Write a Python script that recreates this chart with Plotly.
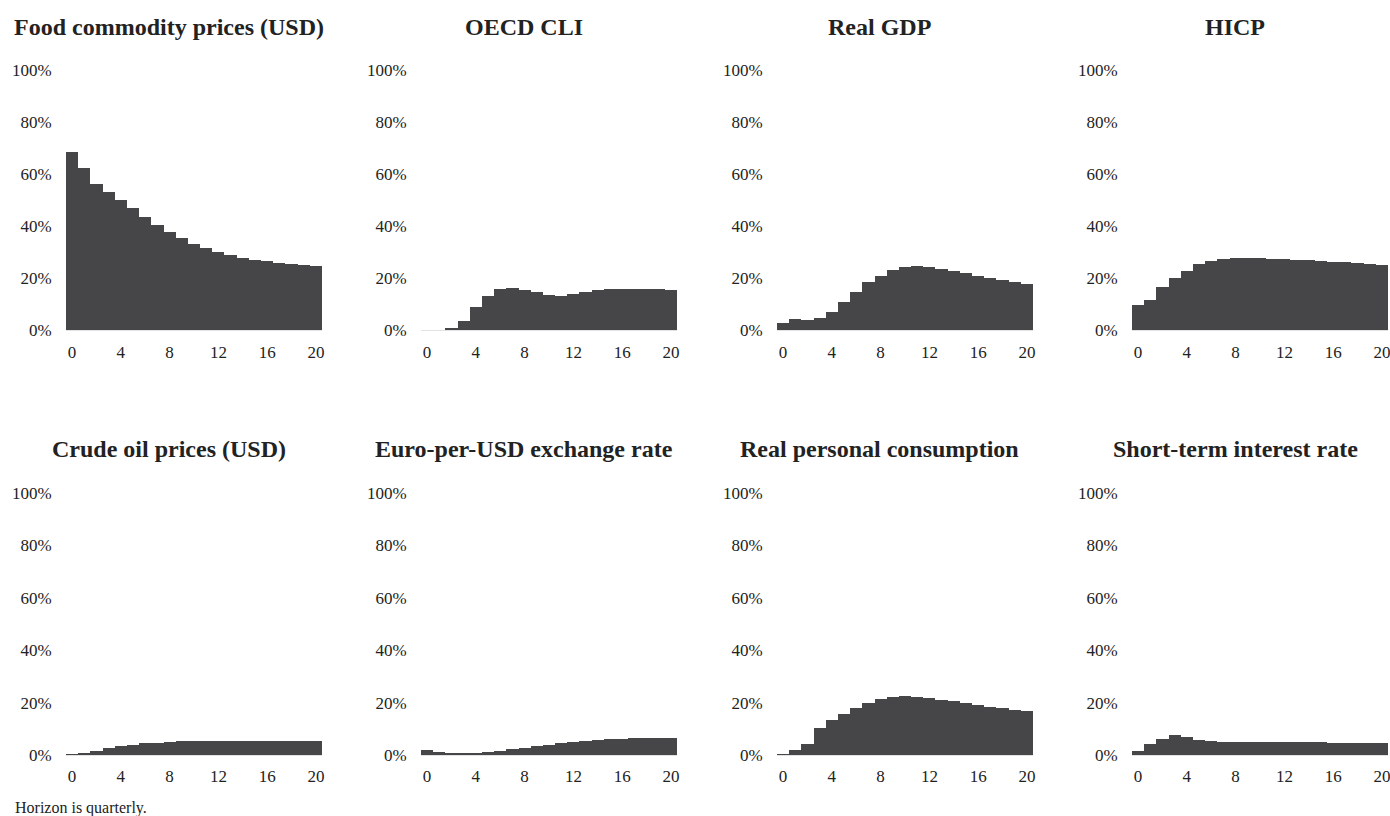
import plotly.graph_objects as go

# Share of forecast error variance explained, by horizon (quarters 0-20)
horizon = list(range(21))

titles = [
    "Food commodity prices (USD)", "OECD CLI", "Real GDP", "HICP",
    "Crude oil prices (USD)", "Euro-per-USD exchange rate",
    "Real personal consumption", "Short-term interest rate",
]

food_prices = [68.5, 62.4, 56.0, 53.1, 50.1, 47.1, 43.6, 40.5, 37.6, 35.3, 33.2,
               31.7, 30.0, 28.7, 27.8, 26.9, 26.4, 25.9, 25.5, 25.1, 24.7]
oecd_cli = [0.0, 0.0, 0.5, 3.6, 8.7, 13.2, 15.6, 16.3, 15.5, 14.5, 13.6,
            13.2, 13.8, 14.6, 15.2, 15.8, 15.9, 15.9, 15.8, 15.6, 15.5]
real_gdp = [2.8, 4.1, 3.7, 4.5, 6.8, 10.6, 14.6, 18.3, 20.9, 23.2, 24.4,
            24.7, 24.2, 23.6, 22.7, 21.8, 20.9, 20.0, 19.2, 18.3, 17.7]
hicp = [9.6, 11.5, 16.5, 19.9, 22.7, 25.3, 26.5, 27.3, 27.6, 27.6, 27.6,
        27.4, 27.2, 27.1, 26.8, 26.5, 26.3, 26.0, 25.6, 25.4, 25.0]
crude_oil = [0.2, 0.5, 1.5, 2.5, 3.4, 3.9, 4.5, 4.7, 5.0, 5.2, 5.3,
             5.5, 5.5, 5.5, 5.5, 5.5, 5.5, 5.5, 5.5, 5.5, 5.3]
eur_usd = [1.9, 1.0, 0.6, 0.6, 0.9, 1.3, 1.7, 2.2, 2.8, 3.3, 3.9,
           4.5, 5.0, 5.3, 5.7, 6.0, 6.2, 6.4, 6.5, 6.6, 6.6]
consumption = [0.2, 2.0, 4.3, 10.2, 13.2, 15.6, 18.1, 20.0, 21.4, 22.1, 22.6,
               22.3, 21.8, 21.1, 20.5, 19.7, 19.0, 18.3, 17.8, 17.2, 16.7]
short_rate = [1.5, 4.1, 6.1, 7.8, 7.0, 5.9, 5.2, 4.8, 4.8, 5.0, 5.1,
              5.1, 5.1, 5.0, 4.8, 4.8, 4.7, 4.7, 4.7, 4.7, 4.7]

series = [food_prices, oecd_cli, real_gdp, hicp,
          crude_oil, eur_usd, consumption, short_rate]

x_ticks = [0, 4, 8, 12, 16, 20]
y_ticks = [0, 20, 40, 60, 80, 100]
y_tick_labels = ["0%", "20%", "40%", "60%", "80%", "100%"]

W, H = 1390, 816
FONT = "Liberation Serif"
BAR = "#464648"
TEXT = "#222222"

# pixel spans of each plotting area
col_px = [(66, 322), (421, 677), (777, 1033), (1132, 1388)]
row_px = [(70, 330), (493, 755)]
title_px_y = [27, 449]

fig = go.Figure()
annotations = []
for i, (name, vals) in enumerate(zip(titles, series)):
    r, c = divmod(i, 4)
    n = i + 1
    xa = "x" if n == 1 else f"x{n}"
    ya = "y" if n == 1 else f"y{n}"
    fig.add_trace(go.Bar(
        x=horizon, y=vals, width=1.0, marker=dict(color=BAR, line=dict(width=0)),
        xaxis=xa, yaxis=ya, showlegend=False, hoverinfo="x+y",
    ))
    x0, x1 = col_px[c]
    y0, y1 = row_px[r]
    xkey = "xaxis" if n == 1 else f"xaxis{n}"
    ykey = "yaxis" if n == 1 else f"yaxis{n}"
    fig.update_layout({
        xkey: dict(
            domain=[x0 / W, x1 / W], anchor=ya, range=[-0.5, 20.5],
            tickmode="array", tickvals=x_ticks, showgrid=False, zeroline=False,
            showline=True, linecolor="#e2e2e2", linewidth=1, automargin=False,
            ticks="outside", ticklen=7 if r == 0 else 6,
            tickcolor="rgba(0,0,0,0)", ticklabeloverflow="allow",
            tickfont=dict(family=FONT, size=17, color=TEXT),
        ),
        ykey: dict(
            domain=[1 - y1 / H, 1 - y0 / H], anchor=xa, range=[0, 100],
            tickmode="array", tickvals=y_ticks, ticktext=y_tick_labels,
            showgrid=False, zeroline=False, automargin=False,
            showline=False, ticks="outside", ticklen=10,
            tickcolor="rgba(0,0,0,0)", ticklabeloverflow="allow",
            tickfont=dict(family=FONT, size=17, color=TEXT),
        ),
    })
    annotations.append(dict(
        text=f"<b>{name}</b>", xref="paper", yref="paper",
        x=((x0 + x1) / 2 - 25) / W, y=1 - title_px_y[r] / H,
        xanchor="center", yanchor="middle", showarrow=False,
        font=dict(family=FONT, size=24, color=TEXT),
    ))

annotations.append(dict(
    text="Horizon is quarterly.", xref="paper", yref="paper",
    x=13 / W, y=1 - 808 / H, xanchor="left", yanchor="middle",
    showarrow=False, font=dict(family=FONT, size=16, color=TEXT),
))

fig.update_layout(
    width=W, height=H, autosize=False,
    margin=dict(l=0, r=0, t=0, b=0, pad=0),
    paper_bgcolor="white", plot_bgcolor="white",
    bargap=0, annotations=annotations,
    font=dict(family=FONT, color=TEXT),
)

fig.write_html("out.html")
